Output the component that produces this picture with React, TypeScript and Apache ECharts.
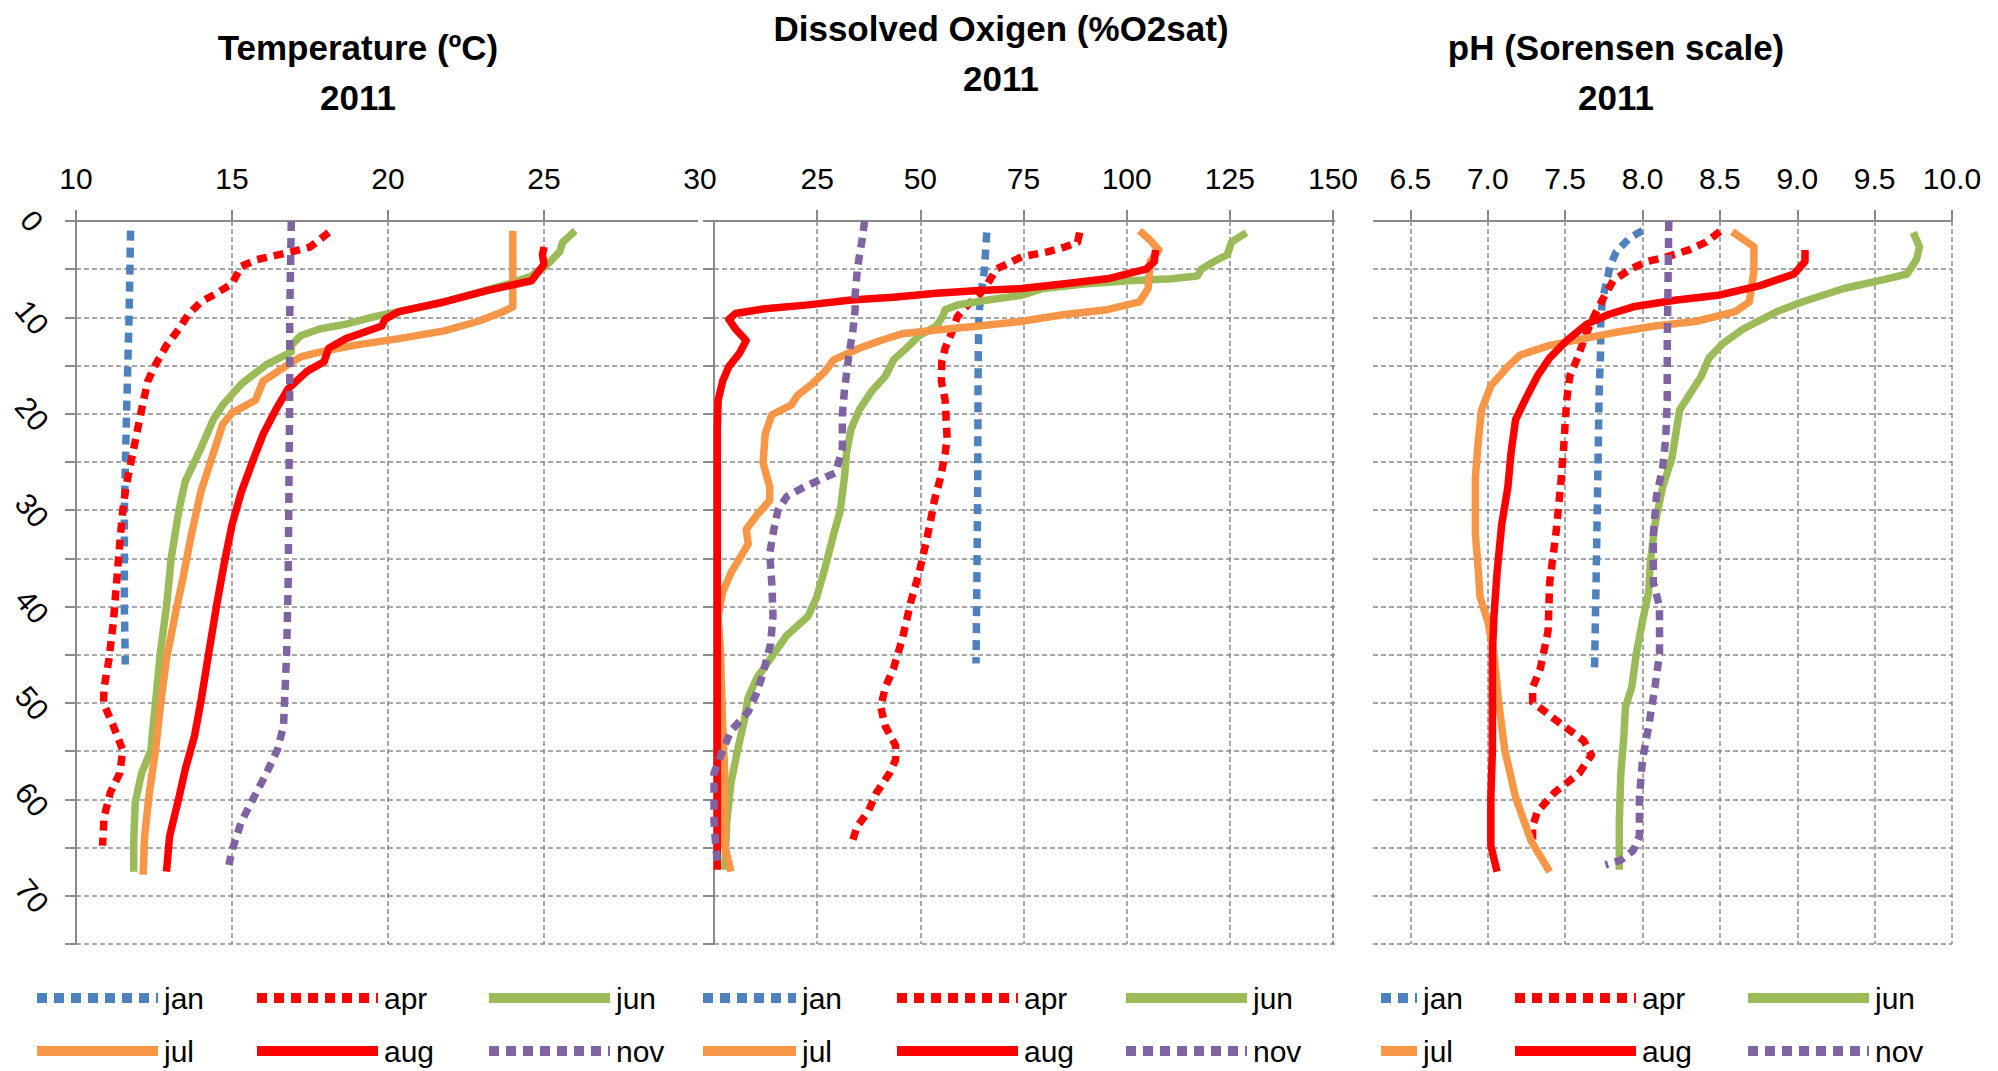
import { useEffect, useRef } from "react";
import * as echarts from "echarts";

// ---- data: [value, depth in m] per month ----
const MONTHS = ["jan", "apr", "jun", "jul", "aug", "nov"];

const tempJan = [[11.75, 1], [11.7, 10], [11.62, 20], [11.55, 30], [11.55, 40], [11.58, 46]];
const tempApr = [[18.1, 1.2], [17.5, 2.7], [16.9, 3.2], [15.8, 4], [15.3, 4.7], [15.0, 6.5], [14.5, 7.5], [14.0, 8.4], [13.6, 9.7], [13.3, 11.2], [12.9, 12.9], [12.55, 14.9], [12.3, 16.6], [12.1, 19.6], [11.85, 23.6], [11.6, 27.6], [11.5, 30], [11.4, 33.5], [11.3, 37.5], [11.2, 41.5], [11.06, 45.4], [10.9, 48.4], [10.88, 50], [11.2, 52.4], [11.5, 54.9], [11.4, 57.3], [11.1, 59.3], [10.9, 61.8], [10.85, 64.8]];
const tempJun = [[26.0, 1], [25.6, 2.2], [25.5, 3.2], [25.05, 4.7], [24.6, 5.7], [23.9, 6.5], [22.9, 7.4], [21.8, 8.4], [20.35, 9.4], [19.6, 9.9], [18.65, 10.7], [17.8, 11.2], [17.2, 11.9], [16.9, 12.9], [16.9, 13.6], [16.1, 14.9], [15.3, 16.9], [14.7, 19.1], [14.4, 20.6], [14.0, 23.6], [13.5, 27], [13.3, 30], [13.05, 35], [12.9, 40], [12.7, 44.9], [12.55, 49.9], [12.4, 54.9], [12.1, 57.3], [11.9, 60.3], [11.85, 64.3], [11.85, 67.5]];
const tempJul = [[24.0, 1], [24.0, 5], [24.0, 8.9], [23.7, 9.4], [22.9, 10.4], [21.8, 11.4], [20.35, 12.2], [18.9, 12.9], [17.8, 13.6], [17.2, 14.1], [16.7, 15.1], [16.0, 16.6], [15.75, 18.6], [15.0, 19.9], [14.7, 21.1], [14.4, 24.1], [14.0, 28.1], [13.7, 32.5], [13.4, 37.5], [13.2, 40.5], [12.9, 45.4], [12.7, 50.4], [12.55, 54.9], [12.35, 59.3], [12.2, 63.8], [12.15, 67.8]];
const tempAug = [[25.0, 2.7], [24.95, 3.5], [25.0, 4.5], [24.6, 6.2], [23.2, 7.2], [21.8, 8.4], [20.35, 9.4], [19.9, 10.2], [19.8, 10.9], [18.65, 12.2], [18.1, 13.2], [17.95, 14.6], [17.4, 15.6], [16.8, 17.4], [16.4, 19.6], [16.0, 22.1], [15.7, 24.6], [15.3, 28.1], [15.0, 31.5], [14.75, 35.5], [14.5, 40], [14.25, 44.9], [14.0, 49.9], [13.8, 53.4], [13.5, 56.9], [13.3, 59.8], [13.0, 63.8], [12.9, 67.5]];
const tempNov = [[16.9, 0], [16.85, 10], [16.85, 17.6], [16.8, 37.5], [16.75, 45], [16.65, 52.4], [16.45, 54.9], [16.1, 57.3], [15.7, 59.8], [15.3, 62.3], [15.0, 65.3], [14.9, 66.8]];

const doJan = [[66.1, 1.2], [65.5, 5.2], [64.8, 7.2], [64.2, 9.7], [64.0, 15.1], [63.9, 27.6], [63.7, 37.5], [63.5, 45.9]];
const doApr = [[88.6, 1.2], [88.1, 2.2], [85, 2.7], [80.8, 3.2], [74.6, 3.7], [68.4, 5.0], [66.3, 6.5], [64.2, 7.7], [61.5, 8.7], [59, 9.9], [57.5, 11.7], [56.0, 13.2], [55.2, 14.6], [55.1, 16.6], [56, 18.6], [56.5, 22.6], [56, 24.1], [54.9, 26.6], [53.4, 29], [52.3, 31.5], [51.3, 33.5], [49.7, 36.5], [47.7, 39.5], [45.6, 43.4], [43.5, 46.4], [41.5, 48.4], [40.4, 50.4], [41.5, 52.4], [44, 54.4], [44, 55.9], [42.5, 57.3], [39.4, 59.3], [37.3, 61.3], [34.7, 62.8], [33.4, 64.5]];
const doJun = [[129, 1.2], [125.4, 2.2], [124.4, 3.5], [121.2, 4.2], [118.1, 5], [117.1, 5.7], [110.9, 6], [100.5, 6.2], [90.2, 6.5], [79.8, 7], [74.6, 7.7], [66.3, 8.2], [59.1, 8.7], [56, 9.2], [55.4, 9.9], [53.9, 10.9], [49.7, 11.9], [46.6, 13.2], [43.5, 14.4], [41.5, 16.1], [38.3, 17.6], [35.2, 19.6], [33.2, 21.6], [32.1, 24.1], [31.6, 26.6], [30.6, 30], [29, 32.5], [26.9, 36], [24.9, 39], [22.8, 41], [17.6, 43], [14.5, 44.9], [10.4, 47.4], [8.3, 49.4], [7.3, 51.9], [5.7, 54.9], [4.1, 58.3], [3.1, 62.3], [2.6, 67.3]];
const doJul = [[103.1, 1], [105.7, 2], [107.8, 3], [105.7, 4.2], [105.2, 7], [103.1, 8.4], [95.3, 9.2], [85, 9.7], [74.6, 10.4], [64.2, 10.9], [53.9, 11.3], [45.6, 11.7], [40.4, 12.4], [35.2, 13.2], [29, 14.4], [26.9, 15.6], [23.8, 16.9], [20.2, 18.1], [18.7, 19.1], [14, 20.1], [12.4, 22.1], [11.9, 25.1], [13.5, 27.6], [13.5, 29], [10.4, 30.5], [7.8, 32], [8.3, 33.5], [4.1, 36.5], [2.1, 38.5], [1.0, 41], [1.6, 44.9], [2.1, 52.4], [2.6, 57.3], [2.6, 64.8], [4.1, 67.5]];
const doAug = [[107, 3], [106.7, 4.2], [104.7, 5], [95.3, 6], [85, 6.5], [74.6, 7], [64.2, 7.2], [53.9, 7.5], [43.5, 7.9], [33.2, 8.2], [22.8, 8.7], [12.4, 9.1], [5.2, 9.6], [3.6, 10.2], [5.2, 11.2], [7.8, 12.4], [6.2, 13.7], [3.6, 15.1], [2.1, 16.6], [1.0, 18.6], [0.8, 21.6], [0.8, 32.5], [0.8, 47.4], [0.8, 67.3]];
const doNov = [[36.5, 0], [35.8, 2.2], [35.2, 3.7], [34.7, 5.2], [34.2, 7.7], [34.2, 9.2], [33.7, 11.2], [32.6, 14.2], [31.6, 17.6], [31.1, 20.1], [31.1, 23.6], [29.5, 26.1], [25.9, 26.8], [21.8, 27.6], [17.6, 28.6], [15.5, 30], [14.5, 32], [13.5, 34.5], [14, 37.5], [14.3, 41], [13.7, 43.9], [11.9, 46.9], [10.4, 48.9], [8.3, 50.9], [4.1, 52.9], [2.1, 54.9], [0, 57.3], [0, 62.3], [0.5, 65.3], [1.0, 66.8]];

const phJan = [[8.0, 1], [7.92, 1.7], [7.83, 3.2], [7.79, 4.7], [7.77, 6.2], [7.74, 8.2], [7.73, 10.7], [7.73, 13.2], [7.72, 17.6], [7.71, 27.6], [7.70, 37.5], [7.69, 46.4]];
const phApr = [[8.5, 1.1], [8.41, 2.2], [8.3, 3], [8.16, 3.7], [8.03, 4.2], [7.92, 5], [7.81, 6.2], [7.74, 8.2], [7.67, 10.4], [7.62, 12.4], [7.58, 14.2], [7.53, 16.1], [7.51, 18.6], [7.49, 23.6], [7.47, 27.6], [7.44, 32.5], [7.4, 37.5], [7.39, 42.5], [7.34, 46.4], [7.29, 48.4], [7.29, 49.9], [7.45, 51.9], [7.62, 53.9], [7.67, 55.4], [7.59, 57.3], [7.43, 59.3], [7.32, 61.3], [7.29, 62.8], [7.29, 64.5]];
const phJun = [[9.75, 1.2], [9.79, 2.7], [9.77, 4], [9.71, 5.5], [9.58, 6], [9.3, 7], [9.03, 8.4], [8.87, 9.4], [8.65, 11.2], [8.52, 12.7], [8.43, 14.2], [8.38, 16.1], [8.3, 18.1], [8.24, 19.6], [8.22, 21.6], [8.19, 24.6], [8.13, 27.6], [8.08, 31.5], [8.05, 35.5], [8.04, 38.5], [8.0, 41.5], [7.96, 44.9], [7.93, 48.4], [7.89, 50.4], [7.88, 53.4], [7.86, 57.3], [7.85, 62.3], [7.85, 67.3]];
const phJul = [[8.58, 1.1], [8.66, 2], [8.72, 2.7], [8.72, 5.2], [8.69, 8.4], [8.6, 9.4], [8.35, 10.4], [8.08, 10.9], [7.81, 11.6], [7.62, 12.2], [7.4, 12.9], [7.21, 13.9], [7.13, 15.1], [7.02, 17.1], [6.96, 19.6], [6.94, 22.6], [6.92, 26.6], [6.92, 32.5], [6.94, 36.5], [6.95, 39], [7.0, 41.5], [7.04, 44.9], [7.07, 49.9], [7.11, 54.9], [7.18, 59.8], [7.28, 64.3], [7.4, 67.5]];
const phAug = [[9.05, 3], [9.05, 4.2], [8.98, 5.5], [8.76, 6.7], [8.49, 7.7], [8.22, 8.2], [7.94, 8.9], [7.78, 9.7], [7.64, 10.7], [7.51, 12.4], [7.4, 14.2], [7.32, 16.1], [7.24, 18.6], [7.18, 20.6], [7.15, 24.1], [7.13, 27.6], [7.09, 31.5], [7.06, 36.5], [7.04, 41], [7.03, 44.9], [7.03, 49.9], [7.03, 54.9], [7.02, 59.8], [7.02, 64.8], [7.06, 67.5]];
const phNov = [[8.17, 0], [8.16, 12.7], [8.16, 18.6], [8.15, 22.6], [8.13, 25.6], [8.09, 28.6], [8.07, 32.5], [8.07, 37.5], [8.11, 40], [8.11, 44.9], [8.08, 48.4], [8.04, 52.4], [8.0, 55.9], [7.98, 59.8], [7.98, 63.8], [7.94, 65.3], [7.86, 66.3], [7.76, 66.8]];

// ---- axes ----
const TEMP_TICKS = { min: 10, max: 30, interval: 5 };
const DO_TICKS = { min: 0, max: 150, interval: 25 };
const PH_TICKS = { min: 6, max: 10, interval: 0.5 };
const DEPTH_TICKS = { min: 0, max: 75, interval: 5 };

const TITLES = ["Temperature (ºC)\n2011", "Dissolved Oxigen (%O2sat)\n2011", "pH (Sorensen scale)\n2011"];

const PANELS = [
  { title: TITLES[0], axis: TEMP_TICKS, series: [tempJan, tempApr, tempJun, tempJul, tempAug, tempNov] },
  { title: TITLES[1], axis: DO_TICKS, series: [doJan, doApr, doJun, doJul, doAug, doNov] },
  { title: TITLES[2], axis: PH_TICKS, series: [phJan, phApr, phJun, phJul, phAug, phNov] },
];

const FONT = '"Liberation Sans", Arial, sans-serif';

const MONTH_STYLE: Record<string, { color: string; dotted: boolean }> = {
  jan: { color: "#4F81BD", dotted: true },
  apr: { color: "#FF0000", dotted: true },
  jun: { color: "#9BBB59", dotted: false },
  jul: { color: "#F79646", dotted: false },
  aug: { color: "#FF0000", dotted: false },
  nov: { color: "#8064A2", dotted: true },
};

const GRIDS = [
  { left: 76, top: 221, width: 624, height: 723 },
  { left: 714, top: 221, width: 619, height: 723 },
  { left: 1333, top: 221, width: 619, height: 723 },
];
const TITLE_POS = [
  { x: 358, y: 72 },
  { x: 1001, y: 53 },
  { x: 1616, y: 72 },
];
const LEGEND_COLS = [
  [32, 252, 484],
  [698, 892, 1121],
  [1376, 1510, 1743],
];
const LEGEND_WIDTHS = [
  [121, 121, 121],
  [93, 121, 121],
  [36, 121, 121],
];
const LEGEND_ROWS = [998, 1051];

const AXIS_GRAY = "#8a8a8a";
const DOT = [10, 7];

function buildOption() {
  const grid = GRIDS.map((g) => ({ ...g, containLabel: false }));

  const xAxis = PANELS.map((p, i) => ({
    type: "value",
    gridIndex: i,
    position: "top",
    min: p.axis.min,
    max: p.axis.max,
    interval: p.axis.interval,
    axisLine: { show: true, onZero: false, lineStyle: { color: AXIS_GRAY, width: 2 } },
    axisTick: { show: true, length: 11, lineStyle: { color: AXIS_GRAY, width: 2 } },
    axisLabel: {
      show: true,
      margin: 28,
      fontSize: 30,
      color: "#000",
      fontFamily: FONT,
      showMinLabel: i === 0,
      showMaxLabel: true,
      formatter: (v: number) => (i === 2 ? v.toFixed(1) : String(v)),
    },
    splitLine: { show: true, lineStyle: { color: AXIS_GRAY, width: 1.5, type: [5, 3] } },
  }));

  const yAxis = PANELS.map((_, i) => ({
    type: "value",
    gridIndex: i,
    inverse: true,
    min: DEPTH_TICKS.min,
    max: DEPTH_TICKS.max,
    interval: DEPTH_TICKS.interval,
    axisLine: { show: i < 2, onZero: false, lineStyle: { color: AXIS_GRAY, width: 2 } },
    axisTick: { show: i < 2, length: 11, lineStyle: { color: AXIS_GRAY, width: 2 } },
    axisLabel: {
      show: i === 0,
      rotate: -50,
      align: "center",
      verticalAlign: "middle",
      margin: 44,
      fontSize: 30,
      color: "#000",
      fontFamily: FONT,
      formatter: (v: number) => (v % 10 === 0 ? String(v) : ""),
    },
    splitLine: { show: true, lineStyle: { color: AXIS_GRAY, width: 1.5, type: [5, 3] } },
  }));

  const series: any[] = [];
  PANELS.forEach((p, i) => {
    p.series.forEach((data, k) => {
      const name = MONTHS[k];
      const st = MONTH_STYLE[name];
      series.push({
        type: "line",
        name,
        xAxisIndex: i,
        yAxisIndex: i,
        data,
        symbol: "none",
        showSymbol: false,
        silent: true,
        smooth: false,
        itemStyle: { color: st.color },
        lineStyle: {
          color: st.color,
          width: 7.5,
          type: st.dotted ? DOT : "solid",
          cap: "butt",
          join: "round",
        },
      });
    });
  });

  const legend: any[] = [];
  PANELS.forEach((_, p) => {
    LEGEND_ROWS.forEach((rowY, r) => {
      LEGEND_COLS[p].forEach((x, c) => {
        const name = MONTHS[r * 3 + c];
        const st = MONTH_STYLE[name];
        legend.push({
          data: [name],
          left: x,
          top: rowY - 15,
          padding: 0,
          itemGap: 0,
          itemWidth: LEGEND_WIDTHS[p][c],
          itemHeight: 12,
          selectedMode: false,
          textStyle: { fontSize: 30, lineHeight: 30, color: "#000", fontFamily: FONT, padding: [0, 0, 0, 1] },
          lineStyle: { width: 10, type: st.dotted ? DOT : "solid", cap: "butt" },
          itemStyle: { opacity: 0 },
        });
      });
    });
  });

  const graphic: any[] = PANELS.map((p, i) => ({
    type: "text",
    x: TITLE_POS[i].x,
    y: TITLE_POS[i].y,
    z: 20,
    style: {
      text: p.title,
      align: "center",
      verticalAlign: "middle",
      textAlign: "center",
      textVerticalAlign: "middle",
      fontSize: 35,
      fontWeight: "bold",
      fontFamily: FONT,
      lineHeight: 50,
      fill: "#000",
    },
  }));
  // the temperature chart's frame ends just short of its 30 ºC gridline
  graphic.push({
    type: "rect",
    z: 50,
    shape: { x: 698, y: 205, width: 4.5, height: 745 },
    style: { fill: "#fff" },
  });
  // the pH chart sits partly under the oxygen chart: its left margin stays blank
  graphic.push({
    type: "rect",
    z: 50,
    shape: { x: 1335, y: 196, width: 38, height: 760 },
    style: { fill: "#fff" },
  });

  return {
    animation: false,
    backgroundColor: "#fff",
    textStyle: { fontFamily: FONT },
    grid,
    xAxis,
    yAxis,
    series,
    legend,
    graphic,
  };
}

export default function App() {
  const ref = useRef<HTMLDivElement>(null);
  useEffect(() => {
    if (!ref.current) return;
    const chart = echarts.init(ref.current, null, { renderer: "svg" });
    chart.setOption(buildOption() as any);
    return () => chart.dispose();
  }, []);
  return (
    <div
      ref={ref}
      style={{ position: "fixed", left: 0, top: 0, width: 1998, height: 1071, background: "#fff" }}
    />
  );
}
